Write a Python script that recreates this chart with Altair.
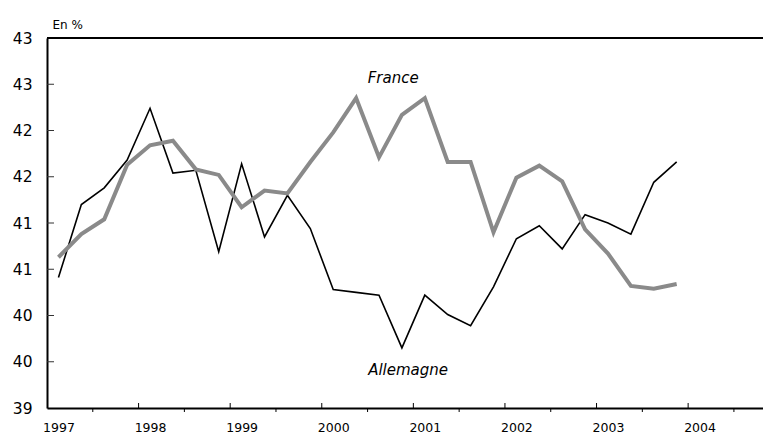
import altair as alt
import pandas as pd

# Quarterly data, 1997Q1 - 2003Q4 (en %)
quarters = list(range(28))
allemagne = [40.41, 41.20, 41.38, 41.68, 42.24, 41.54, 41.57, 40.69, 41.64, 40.85,
             41.30, 40.94, 40.28, 40.25, 40.22, 39.65, 40.22, 40.01, 39.89, 40.31,
             40.83, 40.97, 40.72, 41.09, 41.00, 40.88, 41.44, 41.66]
france = [40.63, 40.88, 41.04, 41.63, 41.84, 41.89, 41.58, 41.52, 41.17, 41.35,
          41.32, 41.66, 41.98, 42.35, 41.71, 42.17, 42.35, 41.66, 41.66, 40.90,
          41.49, 41.62, 41.45, 40.93, 40.67, 40.32, 40.29, 40.34]

first_year = 1997
year_label_q = [0, 4, 8, 12, 16, 20, 24, 28]           # Q1 of each year
year_bounds = [3.5, 7.5, 11.5, 15.5, 19.5, 23.5, 27.5]  # between Q4 and Q1
mid_years = [1.5, 5.5, 9.5, 13.5, 17.5, 21.5, 25.5, 29.5]
y_ticks = [39, 39.5, 40, 40.5, 41, 41.5, 42, 42.5, 43]
y_inner_ticks = [39.5, 40, 40.5, 41, 41.5, 42, 42.5]

ann_text = ["France", "Allemagne"]
ann_t = [14.62, 15.27]
ann_v = [42.51, 39.357]

W, H = 716, 370
FONT = "DejaVu Sans"

df = pd.DataFrame({"t": quarters + quarters,
                   "v": allemagne + france,
                   "pays": ["Allemagne"] * 28 + ["France"] * 28})

xs = alt.Scale(domain=[-0.5, 30.77], nice=False, zero=False)
ys = alt.Scale(domain=[39, 43], nice=False, zero=False)

x_axis = alt.Axis(values=year_label_q, labelExpr=f"{first_year} + datum.value / 4",
                  title=None, grid=False, tickSize=0, labelPadding=13,
                  domainColor="black", domainWidth=2, labelFontSize=12.5,
                  labelFont=FONT, labelColor="black")
y_axis = alt.Axis(values=y_ticks, format=".0f", title="En %", grid=False, tickSize=0,
                  labelPadding=15, domainColor="black", domainWidth=2,
                  labelFontSize=15.5, labelFont=FONT, labelColor="black",
                  titleAngle=0, titleAlign="left", titleBaseline="alphabetic",
                  titleX=5, titleY=-10, titleFont=FONT, titleFontSize=12,
                  titleFontWeight="normal", titleColor="black")

base = alt.Chart(df)

lines = base.mark_line(strokeJoin="miter", clip=True).encode(
    x=alt.X("t:Q", scale=xs, axis=x_axis),
    y=alt.Y("v:Q", scale=ys, axis=y_axis),
    color=alt.Color("pays:N", scale=alt.Scale(domain=["France", "Allemagne"],
                                              range=["#8a8a8a", "black"]), legend=None),
    strokeWidth=alt.StrokeWidth("pays:N", scale=alt.Scale(domain=["France", "Allemagne"],
                                                          range=[4, 1.6]), legend=None),
    order=alt.Order("t:Q"),
)

top_rule = alt.Chart(pd.DataFrame({"v": [43]})).mark_rule(color="black", strokeWidth=2).encode(
    y=alt.Y("v:Q", scale=ys), x=alt.value(0), x2=alt.value(W))

up_ticks = alt.Chart(pd.DataFrame({"t": year_bounds})).mark_rule(color="black", strokeWidth=1).encode(
    x=alt.X("t:Q", scale=xs), y=alt.value(H), y2=alt.value(H - 5))
down_ticks = alt.Chart(pd.DataFrame({"t": mid_years})).mark_rule(color="black", strokeWidth=1).encode(
    x=alt.X("t:Q", scale=xs), y=alt.value(H), y2=alt.value(H + 4))
yt = alt.Chart(pd.DataFrame({"v": y_inner_ticks})).mark_rule(color="#333", strokeWidth=1).encode(
    y=alt.Y("v:Q", scale=ys), x=alt.value(0), x2=alt.value(7))

ann = alt.Chart(pd.DataFrame({"txt": ann_text, "t": ann_t, "v": ann_v})).mark_text(
    font=FONT, fontSize=15, fontStyle="italic", align="center", baseline="alphabetic",
    color="black").encode(
    x=alt.X("t:Q", scale=xs), y=alt.Y("v:Q", scale=ys), text="txt:N")

chart = alt.layer(lines, top_rule, up_ticks, down_ticks, yt, ann).properties(
    width=W, height=H,
    autosize=alt.AutoSizeParams(type="none"),
    padding={"left": 39, "top": 30, "right": 0, "bottom": 28},
).configure_view(stroke=None).configure(background="white")

chart.save("out.html", embed_options={"renderer": "svg", "actions": False})
